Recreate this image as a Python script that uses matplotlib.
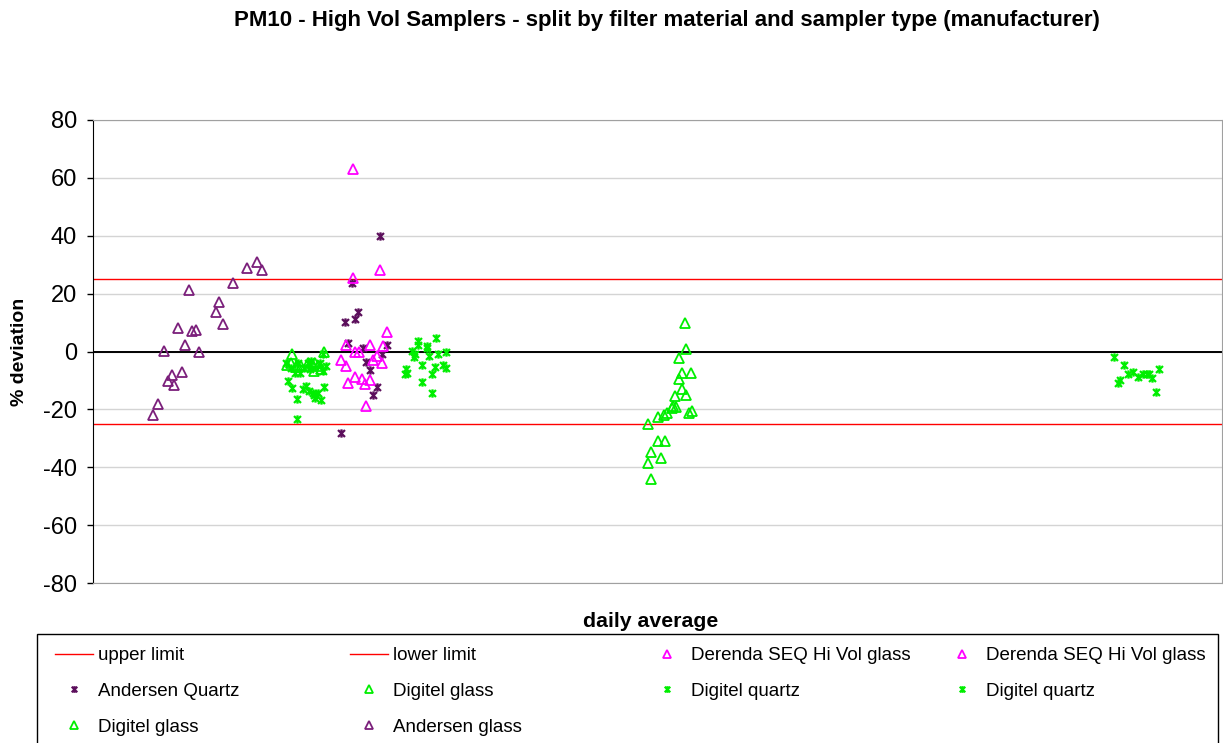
import matplotlib
matplotlib.use('Agg')
import matplotlib.pyplot as plt
from matplotlib.path import Path
from matplotlib.patches import Rectangle

plt.rcParams['font.family'] = ['Liberation Sans', 'DejaVu Sans']
plt.rcParams['axes.unicode_minus'] = False

upper_limit = 25
lower_limit = -25

# x: position along the daily average axis, y: % deviation
andersen_glass_x = [60, 65, 71, 75, 79, 81, 85, 89, 92, 96, 99, 103, 106, 123, 126, 130, 140, 154, 164, 169]
andersen_glass_y = [-22.1, -18.3, 0.2, -10.3, -8.1, -11.6, 8.1, -7.0, 2.3, 21.4, 7.2, 7.6, -0.2,
                    13.8, 17.0, 9.6, 23.7, 28.9, 30.9, 28.3]

andersen_quartz_x = [248, 252, 255, 259, 262, 265, 270, 273, 277, 280, 284, 287, 289, 294]
andersen_quartz_y = [-28.3, 10.3, 3.0, 23.7, 11.3, 13.6, 1.3, -3.7, -6.5, -14.9, -12.2, 40.0, -1.0, 2.4]

derenda1_x = [248, 253, 253, 255, 260, 260, 262, 262, 266]
derenda1_y = [-3.0, 2.4, -5.1, -10.8, 63.1, 25.5, -0.2, -8.7, -0.2]
derenda2_x = [269, 272, 273, 277, 277, 280, 284, 287, 289, 290, 294]
derenda2_y = [-9.4, -11.4, -18.7, 2.4, -9.9, -2.8, -1.4, 28.3, -3.9, 1.8, 6.7]

digitel_glass1_x = [194, 198, 199, 203, 204, 208, 215, 220, 221, 222, 225, 228, 231]
digitel_glass1_y = [-4.5, -3.9, -1.0, -5.5, -4.5, -5.1, -4.1, -4.8, -6.8, -3.9, -5.1, -6.0, -0.2]

digitel_quartz1_x = [193, 195, 198, 199, 202, 204, 204, 205, 207, 210, 211, 213, 215, 216, 217, 218,
                     220, 221, 222, 225, 227, 228, 230, 230, 231, 233]
digitel_quartz1_y = [-3.9, -10.3, -5.6, -12.5, -7.4, -16.3, -23.2, -3.9, -7.4, -13.1, -5.6, -12.0, -3.9,
                     -13.7, -6.2, -3.4, -14.3, -14.9, -16.0, -14.3, -3.9, -16.8, -6.8, -0.7, -12.2, -5.1]

digitel_quartz2_x = [312, 313, 314, 319, 321, 322, 325, 325, 329, 329, 334, 334, 336, 339, 339,
                     342, 343, 345, 350, 353, 353,
                     1021, 1025, 1027, 1031, 1035, 1040, 1045, 1050, 1054, 1056, 1059, 1063, 1066]
digitel_quartz2_y = [-7.9, -6.0, -7.4, 0.1, -1.8, -0.7, 3.6, 2.1, -4.8, -10.6, 1.8, 1.3, -1.4,
                     -7.9, -14.5, -5.3, 4.6, -1.0, -4.5, -0.1, -5.6,
                     -1.8, -10.8, -9.7, -4.8, -7.9, -7.0, -8.7, -7.9, -7.9, -7.9, -9.1, -14.1, -6.0]

digitel_glass2_x = [555, 555, 558, 558, 565, 565, 568, 571, 572, 574, 579, 580, 582, 583, 586, 586,
                    589, 589, 592, 593, 593, 596, 598, 599]
digitel_glass2_y = [-24.9, -38.5, -34.8, -44.2, -22.6, -31.0, -36.7, -21.8, -31.0, -21.2, -19.5, -18.7,
                    -15.4, -19.2, -2.2, -9.4, -13.1, -7.6, 9.7, 0.7, -14.9, -21.2, -7.6, -20.6]

purple = '#7b1f7b'
dark_purple = '#5c0f5c'
magenta = '#ff00ff'
green = '#00ee00'

# excel style "star" marker: an x with a vertical bar
star = Path([(-1, -1), (1, 1), (-1, 1), (1, -1), (0, -1.2), (0, 1.2)],
            [Path.MOVETO, Path.LINETO, Path.MOVETO, Path.LINETO, Path.MOVETO, Path.LINETO])

fig = plt.figure(figsize=(12.23, 7.43), dpi=100)
ax = fig.add_axes([93 / 1223, 1 - 583 / 743, 1129 / 1223, 463 / 743])

tri = dict(marker='^', linestyle='none', markersize=7.5, markerfacecolor='none', markeredgewidth=1.3)
stk = dict(marker=star, linestyle='none', markersize=6, markeredgewidth=1.6)

h_up = ax.axhline(upper_limit, color='red', lw=1, label='upper limit', zorder=2)
h_low = ax.axhline(lower_limit, color='red', lw=1, label='lower limit', zorder=2)
ax.axhline(0, color='black', lw=1.4, zorder=2)

h_ag, = ax.plot(andersen_glass_x, andersen_glass_y, color=purple, label='Andersen glass', **tri)
h_aq, = ax.plot(andersen_quartz_x, andersen_quartz_y, color=dark_purple, label='Andersen Quartz', **stk)
h_dg1, = ax.plot(digitel_glass1_x, digitel_glass1_y, color=green, label='Digitel glass', **tri)
h_dq1, = ax.plot(digitel_quartz1_x, digitel_quartz1_y, color=green, label='Digitel quartz', **stk)
h_dq2, = ax.plot(digitel_quartz2_x, digitel_quartz2_y, color=green, label='Digitel quartz', **stk)
h_de1, = ax.plot(derenda1_x, derenda1_y, color=magenta, label='Derenda SEQ Hi Vol glass', **tri)
h_de2, = ax.plot(derenda2_x, derenda2_y, color=magenta, label='Derenda SEQ Hi Vol glass', **tri)
h_dg2, = ax.plot(digitel_glass2_x, digitel_glass2_y, color=green, label='Digitel glass', **tri)

ax.set_xlim(0, 1129)
ax.set_ylim(-80, 80)
ax.set_yticks(range(-80, 81, 20))
ax.set_xticks([])
ax.yaxis.grid(True, color='#d4d4d4', lw=1)
ax.set_axisbelow(True)
for side in ['top', 'right', 'bottom']:
    ax.spines[side].set_color('#a0a0a0')
ax.spines['left'].set_color('black')
ax.tick_params(axis='y', direction='out', length=4.5, width=1, pad=7, labelsize=17)

ax.set_xlabel('daily average', fontsize=15.3, fontweight='bold')
ax.xaxis.set_label_coords(0.494, -0.062)
ax.set_ylabel('% deviation', fontsize=14, fontweight='bold')
ax.yaxis.set_label_coords(-0.058, 0.5)

fig.text(0.545, 0.973, 'PM10 - High Vol Samplers - split by filter material and sampler type (manufacturer)',
         ha='center', va='center', fontsize=16, fontweight='bold')

# legend box, excel lays the entries out in equal width columns
fig.add_artist(Rectangle((37 / 1223, -0.05), 1181 / 1223, 1.05 - 634 / 743,
                         transform=fig.transFigure, fill=False, edgecolor='black', lw=1))
columns = [[h_up, h_aq, h_dg2], [h_low, h_dg1, h_ag], [h_de1, h_dq1], [h_de2, h_dq2]]
col_left = [55, 350, 648, 943]
for hs, x0 in zip(columns, col_left):
    leg = fig.legend(hs, [h.get_label() for h in hs], loc='upper left',
                     bbox_to_anchor=(x0 / 1223, 1 - 647 / 743), frameon=False,
                     fontsize=13.5, borderpad=0, borderaxespad=0, labelspacing=0.99,
                     handlelength=2.03, handletextpad=0.27, markerscale=0.8)

fig.savefig('out.png', dpi=100)
